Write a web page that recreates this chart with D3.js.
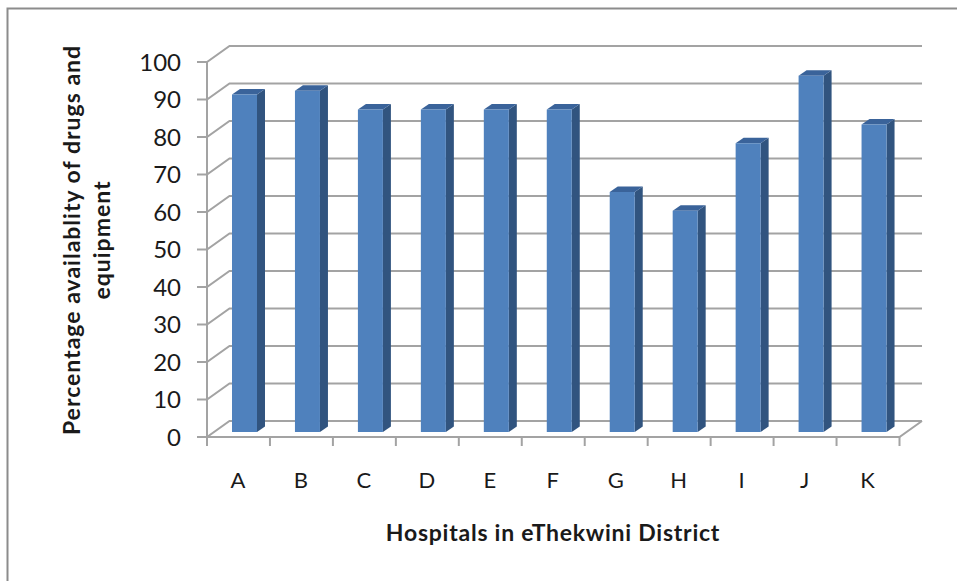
<!DOCTYPE html>
<html>
<head>
<meta charset="utf-8">
<style>
  html, body { margin: 0; padding: 0; background: #fff; }
  svg { display: block; }
  text { font-family: Lato, "Open Sans", sans-serif; fill: #1a1a1a; }
</style>
<script src="https://cdn.jsdelivr.net/npm/d3@7/dist/d3.min.js"></script>
</head>
<body>
<svg id="chart" width="957" height="581"></svg>
<script>
const hospitals = ["A", "B", "C", "D", "E", "F", "G", "H", "I", "J", "K"];
const availability = [90, 91, 86, 86, 86, 86, 64, 59, 77, 95, 82];
const yTicks = [0, 10, 20, 30, 40, 50, 60, 70, 80, 90, 100];

const svg = d3.select("#chart");
const grey = "#a3a3a3";

// Front plane of the 3-D box and the offset of its back wall
const x = d3.scaleBand().domain(hospitals).range([207, 899.5]);
const y = d3.scaleLinear().domain([0, 100]).range([437, 62]);
const wall = { dx: 22.5, dy: -16 };
// Bars stand part-way into the box
const barLift = 5;
const barInset = 25, barWidth = 25;
const depth = { dx: 8, dy: -5.5 };

// Frame around the chart area
svg.append("path")
  .attr("d", "M7.5,581V8.5H957")
  .attr("fill", "none").attr("stroke", "#8c8c8c").attr("stroke-width", 2);

// Gridlines on the back wall plus the diagonals on the side wall
const grid = svg.append("g").attr("fill", "none").attr("stroke", grey).attr("stroke-width", 2);
grid.selectAll("path.wall").data(yTicks).join("path").attr("class", "wall")
  .attr("d", t => {
    const line = d3.path();
    line.moveTo(x.range()[0] - 10, y(t));
    line.lineTo(x.range()[0], y(t));
    line.lineTo(x.range()[0] + wall.dx, y(t) + wall.dy);
    line.lineTo(x.range()[1] + wall.dx, y(t) + wall.dy);
    return line.toString();
  });

// Vertical axis, floor edges and category ticks
grid.append("path").attr("d", d3.line()([
  [x.range()[0], y(100)], [x.range()[0], y(0)], [x.range()[1], y(0)],
  [x.range()[1] + wall.dx, y(0) + wall.dy]
]));
const tickEdges = [...hospitals.map(h => x(h)), x.range()[1]];
grid.selectAll("line.tick").data(tickEdges).join("line").attr("class", "tick")
  .attr("x1", d => d).attr("x2", d => d)
  .attr("y1", y(0)).attr("y2", y(0) + 9);

// Bars: side face, top face, front face
const bars = svg.append("g").selectAll("g").data(hospitals).join("g");
const left = h => x(h) + barInset;
const barTop = (h, i) => y(availability[i]) - barLift;
const barBase = y(0) - barLift;

bars.append("path").attr("fill", "#31547f")
  .attr("d", (h, i) => d3.line()([
    [left(h) + barWidth, barTop(h, i)],
    [left(h) + barWidth + depth.dx, barTop(h, i) + depth.dy],
    [left(h) + barWidth + depth.dx, barBase + depth.dy],
    [left(h) + barWidth, barBase]
  ]) + "Z");
bars.append("path").attr("fill", "#3a639a")
  .attr("d", (h, i) => d3.line()([
    [left(h), barTop(h, i)],
    [left(h) + depth.dx, barTop(h, i) + depth.dy],
    [left(h) + barWidth + depth.dx, barTop(h, i) + depth.dy],
    [left(h) + barWidth, barTop(h, i)]
  ]) + "Z");
bars.append("rect").attr("fill", "#4f81bd")
  .attr("x", left).attr("width", barWidth)
  .attr("y", barTop).attr("height", (h, i) => barBase - barTop(h, i));

// Value labels on the vertical axis
svg.append("g").selectAll("text").data(yTicks).join("text")
  .attr("x", 181).attr("y", t => y(t)).attr("dy", "0.36em")
  .attr("text-anchor", "end").attr("font-size", 24).text(t => t);

// Category labels
svg.append("g").selectAll("text").data(hospitals).join("text")
  .attr("x", h => x(h) + x.bandwidth() / 2 - 0.5).attr("y", 488)
  .attr("text-anchor", "middle").attr("font-size", 22).text(h => h);

// Axis titles
svg.append("text").attr("x", 553).attr("y", 541)
  .attr("text-anchor", "middle").attr("font-size", 23).attr("font-weight", 700)
  .attr("letter-spacing", 0.75)
  .text("Hospitals in eThekwini District");

const yTitle = svg.append("text")
  .attr("transform", "translate(80,240) rotate(-90)")
  .attr("text-anchor", "middle").attr("font-size", 23).attr("font-weight", 700)
  .attr("letter-spacing", 1);
yTitle.append("tspan").attr("x", 0).attr("y", 0).text("Percentage availablity of drugs and");
yTitle.append("tspan").attr("x", 0).attr("y", 30).text("equipment");
</script>
</body>
</html>
